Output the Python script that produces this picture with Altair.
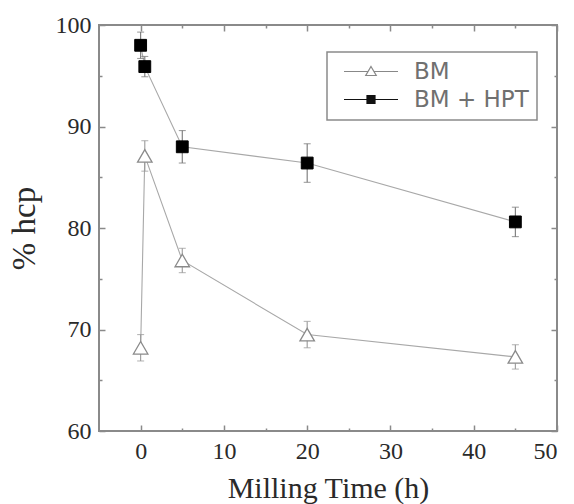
import altair as alt
import pandas as pd

# Phase fraction (% hcp) versus milling time for the two processing routes
series_names = ["BM", "BM + HPT"]

time_bm = [0, 0.5, 5, 20, 45]
hcp_bm = [68.2, 87.1, 76.8, 69.5, 67.3]
err_bm = [1.3, 1.5, 1.2, 1.3, 1.2]

time_hpt = [0, 0.5, 5, 20, 45]
hcp_hpt = [98.0, 95.9, 88.0, 86.4, 80.6]
err_hpt = [1.3, 1.0, 1.6, 1.9, 1.45]

x_major = [0, 10, 20, 30, 40, 50]
x_minor = [5, 15, 25, 35, 45]
y_major = [60, 70, 80, 90, 100]
y_minor = [65, 75, 85, 95]

X_DOMAIN = [-5, 50]
Y_DOMAIN = [60, 100]
PLOT_W, PLOT_H = 458, 406

rows = []
for name, ts, vs, es in [(series_names[0], time_bm, hcp_bm, err_bm),
                         (series_names[1], time_hpt, hcp_hpt, err_hpt)]:
    for t, v, e in zip(ts, vs, es):
        rows.append({"series": name, "time": t, "hcp": v, "lo": v - e, "hi": v + e})
df = pd.DataFrame(rows)

SERIF = "Liberation Serif"
SANS = "DejaVu Sans"
GREY = "#8a8a8a"
MAJOR_PX, MINOR_PX = 6, 3


def xq(field, **kw):
    return alt.X(field, type="quantitative",
                 scale=alt.Scale(domain=X_DOMAIN, nice=False, zero=False), **kw)


def yq(field, **kw):
    return alt.Y(field, type="quantitative",
                 scale=alt.Scale(domain=Y_DOMAIN, nice=False, zero=False), **kw)


def inner_axis(orient, values, length, labels=False):
    # axis pulled inside the frame so its ticks point inwards from the border
    return alt.Axis(orient=orient, values=values, ticks=True, tickSize=length,
                    offset=-length, labels=labels, domain=False, grid=False)


base = alt.Chart(df)

# main layer carries the labelled bottom/left axes with the major ticks
lines = base.mark_line(color="#a8a8a8", strokeWidth=1.1).encode(
    x=xq("time", title="Milling Time (h)",
         axis=inner_axis("bottom", x_major, MAJOR_PX, labels=True)),
    y=yq("hcp", title="% hcp",
         axis=inner_axis("left", y_major, MAJOR_PX, labels=True)),
    detail="series:N",
)


def tick_layer(x_orient, y_orient, xv, yv, length):
    return base.mark_point(opacity=0).encode(
        x=xq("time", title=None, axis=inner_axis(x_orient, xv, length)),
        y=yq("hcp", title=None, axis=inner_axis(y_orient, yv, length)),
    )


minor_bl = tick_layer("bottom", "left", x_minor, y_minor, MINOR_PX)
major_tr = tick_layer("top", "right", x_major, y_major, MAJOR_PX)
minor_tr = tick_layer("top", "right", x_minor, y_minor, MINOR_PX)

err_color = alt.Color("series:N", scale=alt.Scale(domain=series_names, range=["#9a9a9a", "#777777"]),
                      legend=None)

bars = base.mark_rule(strokeWidth=1.1).encode(
    x=xq("time", axis=None), y=yq("lo", axis=None), y2="hi", color=err_color,
)

caps = base.transform_fold(["lo", "hi"], as_=["end", "val"]).mark_tick(
    orient="horizontal", size=7, thickness=1.1
).encode(x=xq("time", axis=None), y=yq("val:Q", axis=None), color=err_color)

tri = base.transform_filter(alt.datum.series == series_names[0]).mark_point(
    shape="triangle-up", size=210, fill="white", stroke=GREY, strokeWidth=1.3,
    opacity=1, filled=False,
).encode(x=xq("time", axis=None), y=yq("hcp", axis=None))

sq = base.transform_filter(alt.datum.series == series_names[1]).mark_point(
    shape="square", size=140, fill="black", stroke="black", strokeWidth=1,
    opacity=1, filled=True,
).encode(x=xq("time", axis=None), y=yq("hcp", axis=None))

# legend glyphs: short line segment through the marker; the square is
# filled with closely spaced strokes so that it reads as solid
bm_glyph = "M-0.5,0H4.32M5.48,0H10.3M4.9,-1L5.95,0.8H3.85Z"
hpt_fill = "".join(f"M4.1,{y / 10:.1f}H5.7" for y in range(-8, 9, 2))
hpt_glyph = "M-0.5,0H4.1M5.7,0H10.3M4.1,-0.8H5.7V0.8H4.1Z" + hpt_fill

legend_layer = base.mark_point(opacity=0).encode(
    x=xq("time", axis=None), y=yq("hcp", axis=None),
    shape=alt.Shape("series:N", scale=alt.Scale(domain=series_names, range=[bm_glyph, hpt_glyph]),
                    legend=alt.Legend(
                        orient="none", legendX=228, legendY=27, title=None,
                        padding=8,
                        labelFont=SANS, labelFontSize=23, labelColor="#707070",
                        symbolSize=100, symbolStrokeWidth=1.2, labelOffset=56,
                        rowPadding=4, fillColor="white",
                    )),
    stroke=alt.Stroke("series:N", scale=alt.Scale(domain=series_names, range=["#888888", "#111111"])),
)

chart = alt.layer(
    lines, minor_bl, major_tr, minor_tr, bars, caps, tri, sq, legend_layer
).resolve_scale(
    color="independent"
).resolve_axis(
    x="independent", y="independent"
).properties(
    width=PLOT_W, height=PLOT_H,
    autosize=alt.AutoSizeParams(type="none"),
    padding={"left": 99, "top": 25, "right": 17, "bottom": 73},
    background="white",
).configure_view(
    stroke=GREY, strokeWidth=2,
).configure_legend(
    strokeColor=GREY, strokeWidth=1.5,
).configure_axis(
    tickColor=GREY, tickWidth=1.5,
    labelFont=SERIF, labelFontSize=24, labelColor="#2a2a2a", labelPadding=8,
    titleFont=SERIF, titleFontWeight="normal", titleColor="#2a2a2a",
).configure_axisX(titlePadding=10, titleFontSize=30).configure_axisY(titlePadding=14, titleFontSize=33)

chart.save("out.html", embed_options={"renderer": "svg", "actions": False})
